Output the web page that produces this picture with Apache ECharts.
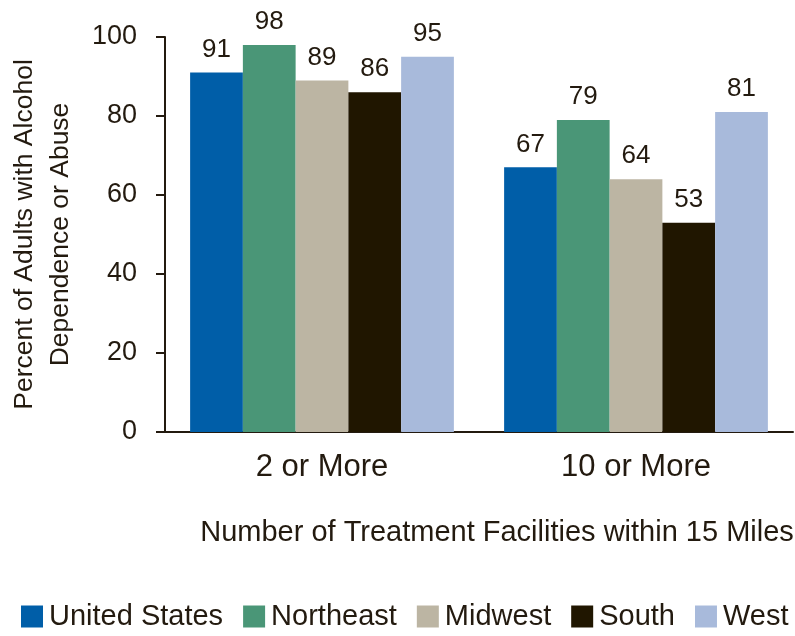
<!DOCTYPE html>
<html>
<head>
<meta charset="utf-8">
<script src="https://cdn.jsdelivr.net/npm/echarts@6/dist/echarts.min.js"></script>
<style>
  html, body { margin: 0; padding: 0; background: #fff; }
  #chart { width: 795px; height: 636px; }
</style>
</head>
<body>
<div id="chart"></div>
<script>
// Share of adults with alcohol dependence or abuse living near treatment facilities
const categories = ['2 or More', '10 or More'];
const regions = ['United States', 'Northeast', 'Midwest', 'South', 'West'];
const unitedStates = [91, 67];
const northeast = [98, 79];
const midwest = [89, 64];
const south = [86, 53];
const west = [95, 81];
const yTicks = [0, 20, 40, 60, 80, 100];

const colors = ['#005ea8', '#4a9677', '#bcb5a3', '#201600', '#a8badb'];
const textColor = '#231a0f';
const font = 'Liberation Sans, Arial, sans-serif';

const seriesValues = [unitedStates, northeast, midwest, south, west];

const chart = echarts.init(document.getElementById('chart'), null, { renderer: 'canvas' });

chart.setOption({
  animation: false,
  textStyle: { fontFamily: font, color: textColor },
  color: colors,
  grid: { left: 165, right: 2, top: 37, bottom: 204, containLabel: false, outerBoundsMode: 'none' },
  legend: {
    data: regions,
    left: 16,
    bottom: 0,
    itemWidth: 22,
    itemHeight: 22,
    itemGap: 20,
    icon: 'rect',
    textStyle: { fontSize: 29, color: textColor, fontFamily: font, padding: [0, 0, 0, 1] }
  },
  xAxis: {
    type: 'category',
    data: categories,
    name: 'Number of Treatment Facilities within 15 Miles',
    nameLocation: 'middle',
    nameGap: 86,
    nameTextStyle: { fontSize: 29, color: textColor, padding: [0, 0, 0, 36] },
    axisLine: { lineStyle: { color: textColor, width: 2 } },
    axisTick: { show: false },
    axisLabel: { fontSize: 31, color: textColor, margin: 20 }
  },
  yAxis: {
    type: 'value',
    min: yTicks[0],
    max: yTicks[yTicks.length - 1],
    interval: 20,
    name: 'Percent of Adults with Alcohol\nDependence or Abuse',
    nameLocation: 'middle',
    nameGap: 86,
    nameTextStyle: { fontSize: 26.5, color: textColor, lineHeight: 36 },
    axisLine: { show: true, lineStyle: { color: textColor, width: 2 } },
    axisTick: { show: true, length: 9, lineStyle: { color: textColor, width: 2 } },
    axisLabel: { fontSize: 27, color: textColor, margin: 28 },
    splitLine: { show: false }
  },
  series: regions.map((name, i) => ({
    name,
    type: 'bar',
    data: seriesValues[i],
    barGap: '0%',
    barCategoryGap: '16%',
    itemStyle: { color: colors[i] },
    label: {
      show: true,
      position: 'top',
      distance: 10,
      fontSize: 26,
      color: textColor,
      fontFamily: font
    }
  }))
});
</script>
</body>
</html>
